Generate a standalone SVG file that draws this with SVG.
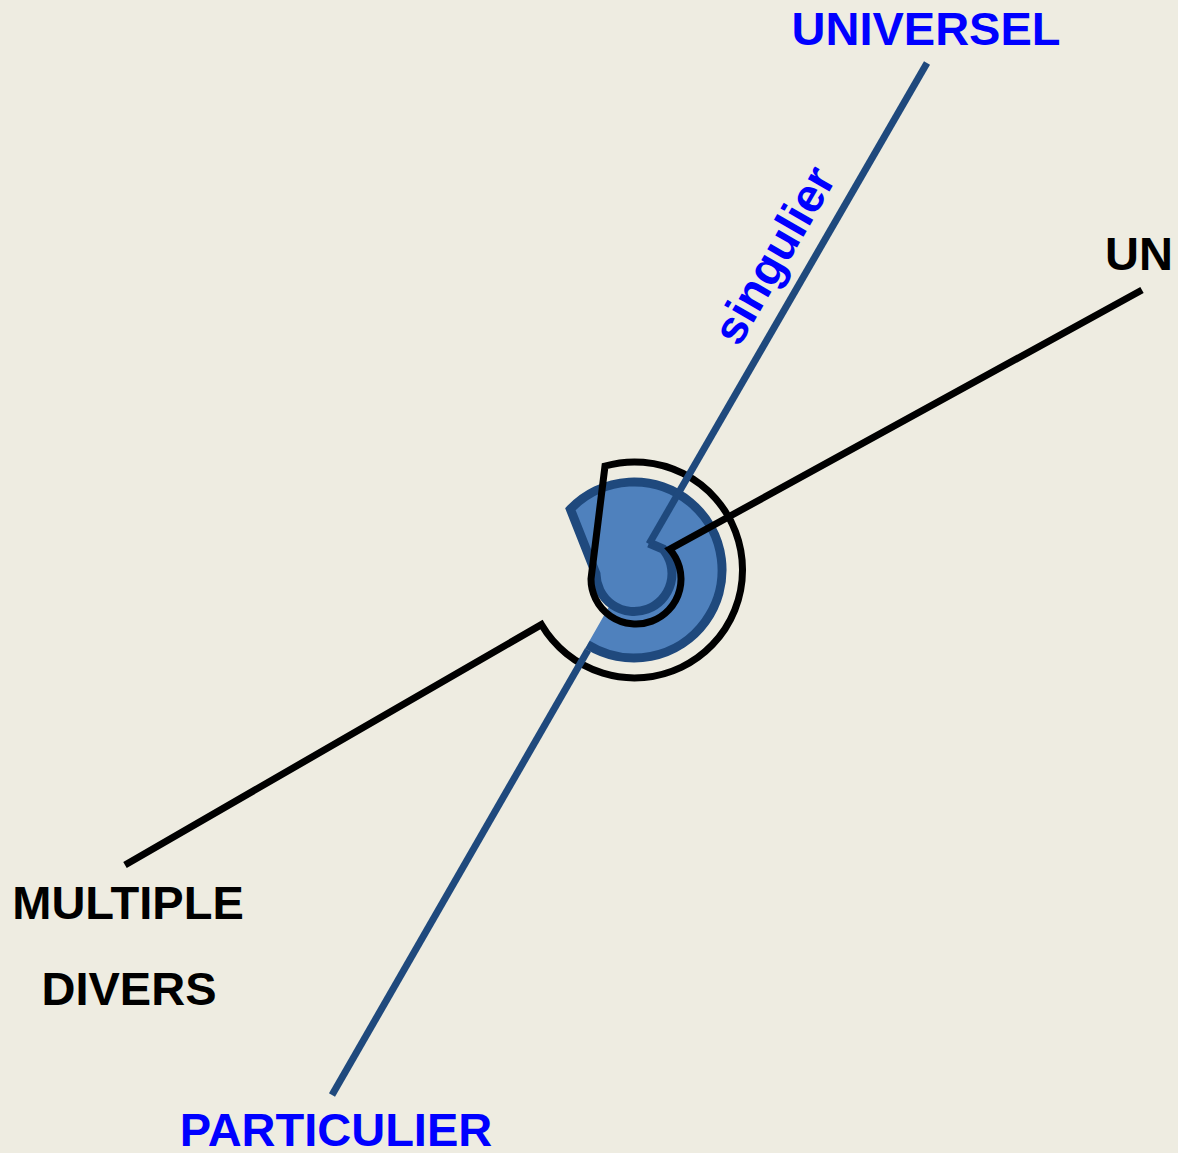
<svg xmlns="http://www.w3.org/2000/svg" width="1178" height="1153" viewBox="0 0 1178 1153">
<style>
.lbl{font-family:"Liberation Sans",Arial,sans-serif;font-weight:bold;font-size:47px}
.blue{fill:#0000FF}
.blk{fill:#000000}
.bline{stroke:#1F497D;stroke-width:7;fill:none}
.kline{stroke:#000000;stroke-width:7;fill:none;stroke-linejoin:miter}
</style>
<rect width="1178" height="1153" fill="#EEECE1"/>
<g id="center-shape">
<path d="M570.4,509.2 A88,88 0 1,1 587.4,644.6 L610,605 Z" fill="#4F81BD"/>
<path d="M587.4,644.6 A88,88 0 1,0 570.4,509.2 L596,574 A38,38 0 1,0 663,549 L649,543" fill="none" stroke="#1F497D" stroke-width="9" stroke-linejoin="miter"/>
</g>
<g id="connectors">
<path class="kline" d="M125,865 L541.4,624.6 A108,108 0 1,0 605,466 L591,579 A45,45 0 1,0 669.7,549.2 L1142,290"/>
<line class="bline" x1="927" y1="63" x2="649" y2="544"/>
<line class="bline" x1="332" y1="1095" x2="588" y2="650"/>
</g>
<g id="node-universel"><text class="lbl blue" x="926" y="45" text-anchor="middle">UNIVERSEL</text></g>
<g id="node-un"><text class="lbl blk" x="1139" y="270" text-anchor="middle">UN</text></g>
<g id="node-multiple"><text class="lbl blk" x="128" y="919" text-anchor="middle">MULTIPLE</text><text class="lbl blk" x="129" y="1005" text-anchor="middle">DIVERS</text></g>
<g id="node-particulier"><text class="lbl blue" x="336" y="1146" text-anchor="middle">PARTICULIER</text></g>
<g id="node-singulier"><text class="lbl blue" transform="translate(739,348) rotate(-60)">singulier</text></g>
</svg>
